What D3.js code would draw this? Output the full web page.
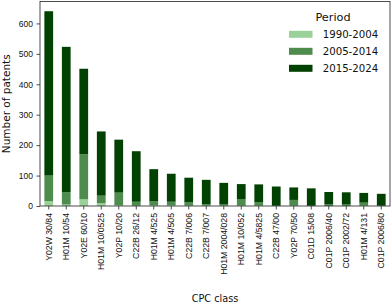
<!DOCTYPE html>
<html>
<head>
<meta charset="utf-8">
<script src="https://cdn.jsdelivr.net/npm/d3@7"></script>
<style>
  body { margin: 0; background: #fff; }
  svg { font-family: "DejaVu Sans", sans-serif; }
</style>
</head>
<body>
<div id="chart"></div>
<script>
// CPC classes and patent counts per period
const categories = ['Y02W 30/84', 'H01M 10/54', 'Y02E 60/10', 'H01M 10/0525', 'Y02P 10/20',
  'C22B 26/12', 'H01M 4/525', 'H01M 4/505', 'C22B 7/006', 'C22B 7/007', 'H01M 2004/028',
  'H01M 10/052', 'H01M 4/5825', 'C22B 47/00', 'Y02P 70/50', 'C01D 15/08', 'C01P 2006/40',
  'C01P 2002/72', 'H01M 4/131', 'C01P 2006/80'];
const periods = ['1990-2004', '2005-2014', '2015-2024'];
const p1990 = [16, 5, 22, 9, 3, 1, 2, 2, 1, 1, 1, 1, 1, 0, 1, 0, 0, 0, 1, 0];
const p2005 = [84, 40, 148, 25, 41, 13, 14, 12, 11, 5, 4, 22, 12, 1, 19, 1, 5, 5, 10, 1];
const p2015 = [540, 478, 281, 211, 174, 166, 105, 92, 81, 80, 71, 49, 58, 63, 41, 57, 41, 40, 32, 39];
const yTicks = [0, 100, 200, 300, 400, 500, 600];
const colors = ['#99d199', '#4d8c4d', '#014101'];

const W = 392, H = 304;
const margin = { top: 1.5, right: 2, bottom: 98, left: 40 };
const width = W - margin.left - margin.right;
const height = H - margin.top - margin.bottom;

const rows = categories.map((c, i) => ({
  name: c, '1990-2004': p1990[i], '2005-2014': p2005[i], '2015-2024': p2015[i]
}));

const svg = d3.select('#chart').append('svg').attr('width', W).attr('height', H);
const g = svg.append('g').attr('transform', 'translate(' + margin.left + ',' + margin.top + ')');

const x = d3.scaleBand().domain(categories).range([0, width]).paddingInner(0.5).paddingOuter(0.25);
const y = d3.scaleLinear().domain([0, 672]).range([height, 0]);
const z = d3.scaleOrdinal().domain(periods).range(colors);

g.append('g')
  .selectAll('g')
  .data(d3.stack().keys(periods)(rows))
  .enter().append('g')
  .attr('fill', d => z(d.key))
  .selectAll('rect')
  .data(d => d)
  .enter().append('rect')
  .attr('x', d => x(d.data.name))
  .attr('y', d => y(d[1]))
  .attr('height', d => y(d[0]) - y(d[1]))
  .attr('width', x.bandwidth());

// frame
g.append('rect')
  .attr('width', width).attr('height', height)
  .attr('fill', 'none').attr('stroke', '#222').attr('stroke-width', 0.8);

const xAxis = g.append('g')
  .attr('transform', 'translate(0,' + height + ')')
  .call(d3.axisBottom(x).tickSize(3.5).tickSizeOuter(0));
xAxis.select('.domain').remove();
xAxis.selectAll('line').attr('stroke', '#222').attr('stroke-width', 0.8);
xAxis.selectAll('text')
  .attr('font-size', 8.7).attr('fill', '#111')
  .attr('text-anchor', 'end')
  .attr('transform', 'translate(0,7) rotate(-90)')
  .attr('x', 0).attr('y', 0).attr('dy', '0.35em');

const yAxis = g.append('g')
  .call(d3.axisLeft(y).tickValues(yTicks).tickSize(3.5).tickPadding(3.5).tickSizeOuter(0));
yAxis.select('.domain').remove();
yAxis.selectAll('line').attr('stroke', '#222').attr('stroke-width', 0.8);
yAxis.selectAll('text').attr('font-size', 8.5).attr('fill', '#111');

svg.append('text')
  .attr('transform', 'translate(6,' + (margin.top + height / 2) + ') rotate(-90)')
  .attr('text-anchor', 'middle').attr('dy', '0.35em')
  .attr('font-size', 10.5).attr('fill', '#111')
  .text('Number of patents');

svg.append('text')
  .attr('x', margin.left + width / 2).attr('y', 301.5)
  .attr('text-anchor', 'middle')
  .attr('font-size', 9.7).attr('fill', '#111')
  .text('CPC class');

// legend
const legend = svg.append('g').attr('font-size', 10.2).attr('fill', '#111');
legend.append('text')
  .attr('x', 333).attr('y', 20.5)
  .attr('text-anchor', 'middle').attr('font-size', 11.3)
  .text('Period');
const item = legend.selectAll('g.item')
  .data(periods)
  .enter().append('g')
  .attr('class', 'item')
  .attr('transform', (d, i) => 'translate(289,' + (34.3 + i * 17) + ')');
item.append('rect')
  .attr('y', -3.5).attr('width', 23.5).attr('height', 7)
  .attr('fill', d => z(d));
item.append('text')
  .attr('x', 33.7).attr('dy', '0.35em')
  .text(d => d);
</script>
</body>
</html>
